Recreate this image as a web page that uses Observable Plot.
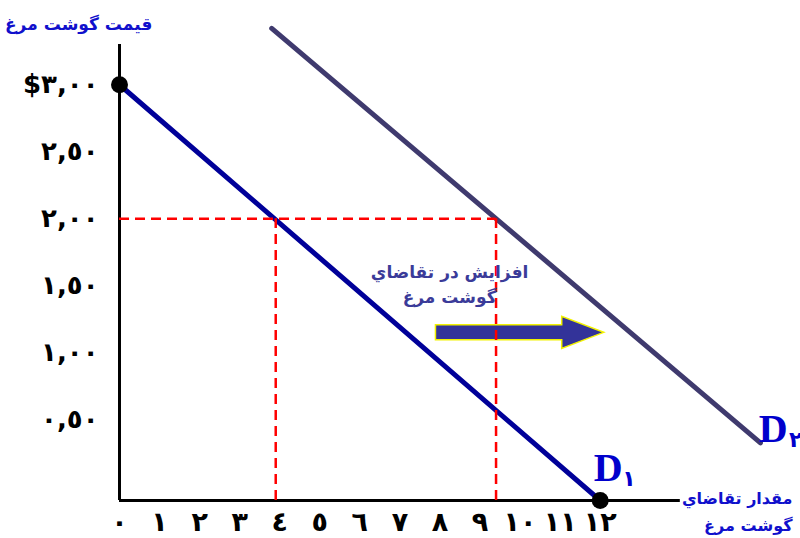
<!DOCTYPE html>
<html><head><meta charset="utf-8">
<script src="https://cdn.jsdelivr.net/npm/d3@7"></script>
<script src="https://cdn.jsdelivr.net/npm/@observablehq/plot@0.6"></script>
<style>body{margin:0;background:#fff}</style>
</head><body><div id="chart"></div>
<script>
// quantity axis (Arabic-Indic digits)
const quantityTicks = [0,1,2,3,4,5,6,7,8,9,10,11,12];
const quantityLabels = ["٠","١","٢","٣","٤","٥","٦","٧","٨","٩","١٠","١١","١٢"];
// price axis
const priceTicks = [3,2.5,2,1.5,1,0.5];
const priceLabels = ["$٣,٠٠","٢,٥٠","٢,٠٠","١,٥٠","١,٠٠","٠,٥٠"];
// demand curves (quantity q, price p)
const demand1 = [{q:0,p:3},{q:12,p:-0.1}];
const demand2 = [{q:3.8,p:3.42},{q:16,p:0.33}];
const demandEndpoints = [{q:0,p:3},{q:12,p:-0.1}];
// guide lines at price 2
const guidePrice = 2;
const guideQuantities = [3.9, 9.4];
// shift arrow
const shift = {from:7.9, to:12.1, p:1.15};
// labels
const curveLabels = [{name:"D", sub:"١", q:12.2, p:0.14, sq:12.72, sp:0.06},
                     {name:"D", sub:"٢", q:16.32, p:0.43, sq:16.88, sp:0.35}];
const yTitle = "قيمت گوشت مرغ";
const xTitle = ["مقدار تقاضاي","گوشت مرغ"];
const shiftNote = ["افزايش در تقاضاي","گوشت مرغ"];

const arabicFont = "DejaVu Sans, sans-serif";
const blue = "#1010cc";

function arrowMark(index, scales) {
  const x0 = scales.x(shift.from), x1 = scales.x(shift.to), y = scales.y(shift.p);
  const body = 7.5, head = 16, headLen = 42;
  const xh = x1 - headLen;
  const d = `M${x0},${y-body}L${xh},${y-body}L${xh},${y-head}L${x1},${y}L${xh},${y+head}L${xh},${y+body}L${x0},${y+body}Z`;
  return d3.create("svg:path").attr("d", d).attr("fill","#333399")
    .attr("stroke","#f2f200").attr("stroke-width",1.5).node();
}

const chart = Plot.plot({
  width: 800, height: 538,
  marginLeft: 119, marginRight: 0, marginTop: 44, marginBottom: 38,
  x: {domain: [0, 17], axis: null},
  y: {domain: [-0.1, 3.3], axis: null},
  marks: [
    // axes
    Plot.ruleX([0], {y1: -0.1, y2: 3.3, stroke: "black", strokeWidth: 3}),
    Plot.ruleY([-0.1], {x1: 0, x2: 14, stroke: "black", strokeWidth: 3}),
    // tick labels
    Plot.text(priceTicks, {x: 0, y: d => d, text: (d,i) => priceLabels[i], textAnchor: "end", dx: -21,
      fontSize: 26, fontWeight: "bold", fontFamily: arabicFont, fill: "black"}),
    Plot.text(quantityTicks, {x: d => d, y: -0.1, text: (d,i) => quantityLabels[i], dy: 22, dx: 0,
      fontSize: 27, fontWeight: "bold", fontFamily: arabicFont, fill: "black"}),
    // arrow
    arrowMark,
    // demand curves
    Plot.line(demand2, {x: "q", y: "p", stroke: "#3f3a6e", strokeWidth: 5}),
    Plot.line(demand1, {x: "q", y: "p", stroke: "#000099", strokeWidth: 5}),
    // dashed guides
    Plot.ruleY([guidePrice], {x1: 0, x2: guideQuantities[1], stroke: "#ff0000", strokeWidth: 2.5, strokeDasharray: "10,6"}),
    Plot.ruleX(guideQuantities, {y1: -0.1, y2: guidePrice, stroke: "#ff0000", strokeWidth: 2.5, strokeDasharray: "10,6"}),
    // endpoints
    Plot.dot(demandEndpoints, {x: "q", y: "p", r: 8.5, fill: "black"}),
    // curve labels
    Plot.text(curveLabels, {x: "q", y: "p", text: "name", fontSize: 40, fontWeight: "bold",
      fontFamily: "Liberation Serif, serif", fill: "#0000cc"}),
    Plot.text(curveLabels, {x: "sq", y: "sp", text: "sub", fontSize: 22, fontWeight: "bold",
      fontFamily: arabicFont, fill: "#0000cc"}),
    // titles
    Plot.text([yTitle], {x: -1.02, y: 3.45, text: d => d, fontSize: 17, fontWeight: "bold",
      fontFamily: arabicFont, fill: blue}),
    Plot.text(xTitle, {x: 16.8, y: (d,i) => i === 0 ? -0.085 : -0.29, text: d => d, textAnchor: "end",
      fontSize: 16, fontWeight: "bold", fontFamily: arabicFont, fill: blue}),
    Plot.text(shiftNote, {x: 8.24, y: (d,i) => i === 0 ? 1.60 : 1.41, text: d => d,
      fontSize: 17, fontWeight: "bold", fontFamily: arabicFont, fill: "#3b3b99"})
  ]
});
document.getElementById("chart").append(chart);
</script>
</body></html>
